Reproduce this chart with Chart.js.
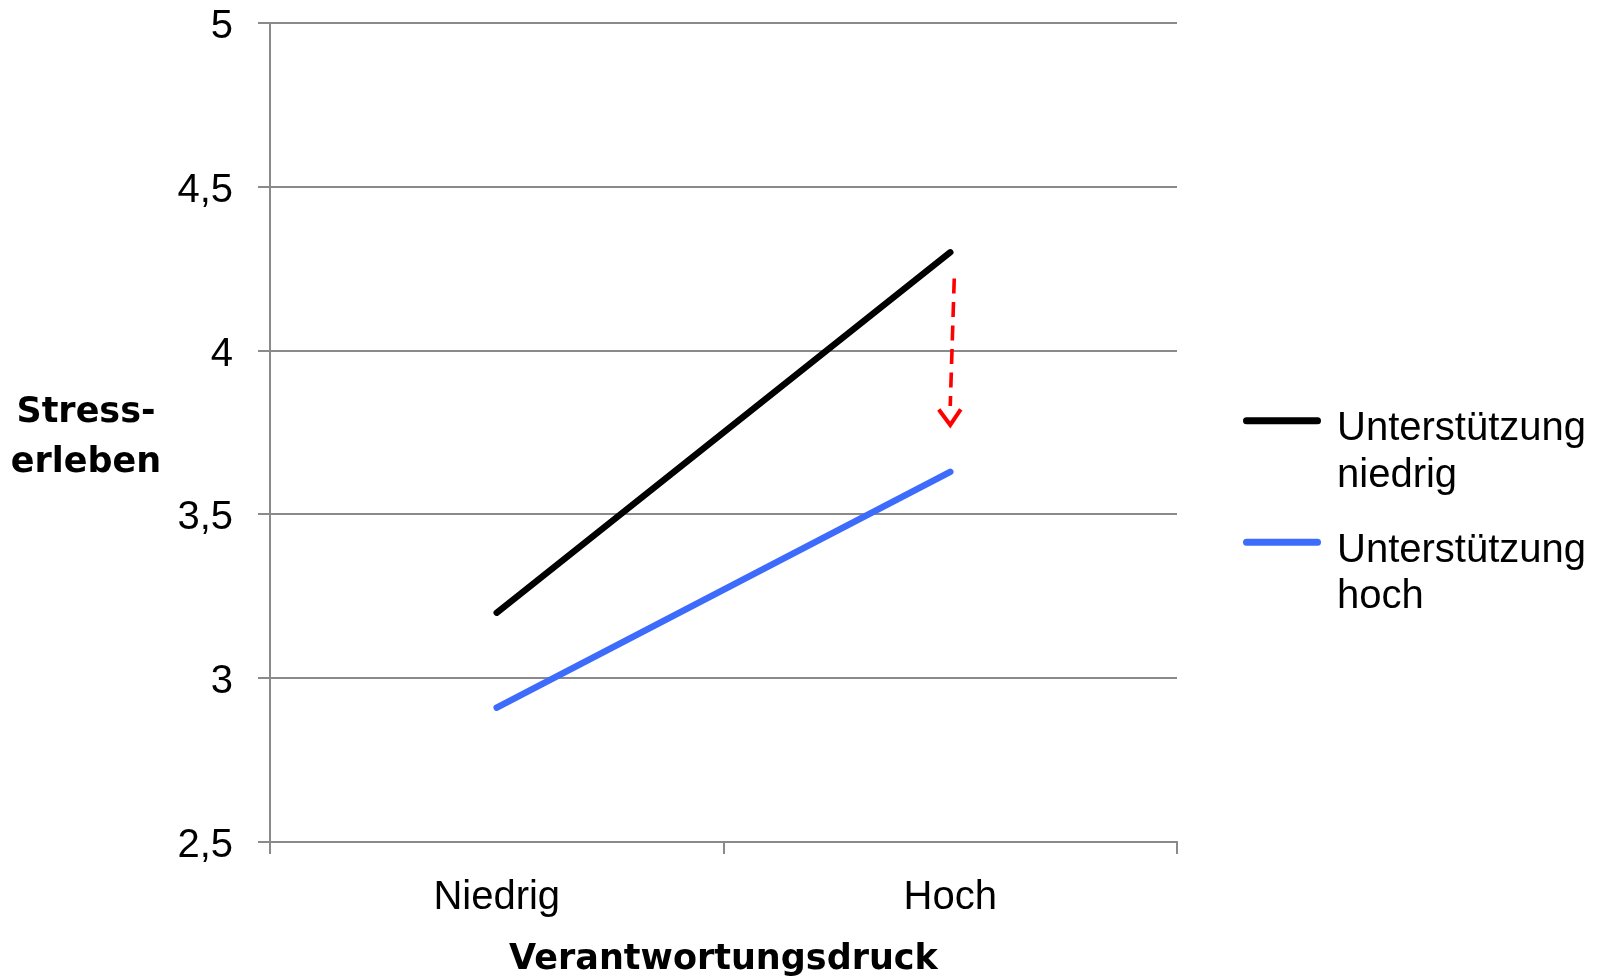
<!DOCTYPE html>
<html lang="de">
<head>
<meta charset="utf-8">
<title>Stresserleben nach Verantwortungsdruck und Unterstützung</title>
<script src="https://cdn.jsdelivr.net/npm/chart.js@4.4.0/dist/chart.umd.min.js"></script>
<style>
  html, body { margin: 0; padding: 0; background: #ffffff; }
  #chart { display: block; }
</style>
</head>
<body>
<canvas id="chart" width="1598" height="979"></canvas>
<script>
// Categories on the x axis (Verantwortungsdruck)
const categories = ['Niedrig', 'Hoch'];

// Mean Stresserleben per group
const supportLow = [3.20, 4.30];
const supportHigh = [2.91, 3.63];

// Legend entries (two-line labels)
const seriesLabels = [
  ['Unterstützung', 'niedrig'],
  ['Unterstützung', 'hoch']
];
const seriesColors = ['#000000', '#3d6cfc'];

// y axis tick labels, German decimal comma
const yTickValues = [2.5, 3, 3.5, 4, 4.5, 5];
const yTickLabels = ['2,5', '3', '3,5', '4', '4,5', '5'];

// Axis titles
const xTitle = 'Verantwortungsdruck';
const yTitleLines = ['Stress-', 'erleben'];

// Buffering effect arrow at "Hoch": from / to (Stresserleben units)
const arrowCategory = 'Hoch';
const arrowFrom = 4.22;
const arrowTo = 3.77;

const GRID = '#8a8a8a';
const REGULAR = 'Liberation Sans, Arial, Helvetica, sans-serif';
const BOLD = 'DejaVu Sans, Verdana, sans-serif';

const extrasPlugin = {
  id: 'extras',
  afterDatasetsDraw(chart) {
    const ctx = chart.ctx;
    const xs = chart.scales.x, ys = chart.scales.y;
    const x = xs.getPixelForValue(categories.indexOf(arrowCategory));
    const y0 = ys.getPixelForValue(arrowFrom);
    const tip = ys.getPixelForValue(arrowTo);
    ctx.save();
    ctx.strokeStyle = '#ff0000';
    ctx.lineWidth = 3.6;
    ctx.lineCap = 'butt';
    ctx.setLineDash([15, 8.5]);
    ctx.beginPath();
    ctx.moveTo(x + 4, y0);
    ctx.lineTo(x, tip - 20);
    ctx.stroke();
    ctx.setLineDash([]);
    ctx.lineWidth = 4;
    ctx.lineJoin = 'miter';
    ctx.beginPath();
    ctx.moveTo(x - 11.5, tip - 16.5);
    ctx.lineTo(x, tip - 1);
    ctx.lineTo(x + 10.5, tip - 16.5);
    ctx.stroke();
    ctx.restore();
  },
  afterDraw(chart) {
    const ctx = chart.ctx;
    ctx.save();
    // y axis title, horizontal, two lines
    ctx.fillStyle = '#000';
    ctx.font = 'bold 35px ' + BOLD;
    ctx.textAlign = 'center';
    ctx.textBaseline = 'alphabetic';
    ctx.fillText(yTitleLines[0], 86, 422);
    ctx.fillText(yTitleLines[1], 86, 472);

    // legend on the right
    const legendY = [420.7, 542.3];
    ctx.font = '40px ' + REGULAR;
    ctx.textAlign = 'left';
    seriesLabels.forEach((lines, i) => {
      const ly = legendY[i];
      ctx.strokeStyle = seriesColors[i];
      ctx.lineWidth = 7;
      ctx.lineCap = 'round';
      ctx.beginPath();
      ctx.moveTo(1246.5, ly);
      ctx.lineTo(1317.5, ly);
      ctx.stroke();
      lines.forEach((t, j) => {
        ctx.fillText(t, 1337, ly + 19.5 + j * 46.3);
      });
    });
    ctx.restore();
  }
};

new Chart(document.getElementById('chart'), {
  type: 'line',
  data: {
    labels: categories,
    datasets: [
      {
        label: seriesLabels[0].join(' '),
        data: supportLow,
        borderColor: seriesColors[0],
        backgroundColor: seriesColors[0],
        borderWidth: 6.5,
        borderCapStyle: 'round',
        pointRadius: 0,
        fill: false,
        tension: 0
      },
      {
        label: seriesLabels[1].join(' '),
        data: supportHigh,
        borderColor: seriesColors[1],
        backgroundColor: seriesColors[1],
        borderWidth: 6.5,
        borderCapStyle: 'round',
        pointRadius: 0,
        fill: false,
        tension: 0
      }
    ]
  },
  options: {
    responsive: false,
    animation: false,
    devicePixelRatio: 1,
    layout: { padding: { top: 23, right: 421, bottom: 0, left: 0 } },
    plugins: {
      legend: { display: false },
      tooltip: { enabled: false },
      title: { display: false }
    },
    scales: {
      x: {
        type: 'category',
        offset: true,
        grid: {
          offset: true,
          drawOnChartArea: false,
          drawTicks: true,
          tickLength: 12,
          color: GRID,
          lineWidth: 2
        },
        border: { display: true, color: GRID, width: 2 },
        ticks: {
          color: '#000',
          font: { family: REGULAR, size: 40 },
          padding: 20,
          maxRotation: 0
        },
        title: {
          display: true,
          text: xTitle,
          color: '#000',
          font: { family: BOLD, size: 35, weight: 'bold', lineHeight: 1 },
          padding: { top: 0, bottom: 2 }
        },
        afterFit(scale) {
          scale.height = 137;
          scale.paddingLeft = 0;
          scale.paddingRight = 0;
        }
      },
      y: {
        min: 2.5,
        max: 5,
        afterBuildTicks(scale) {
          scale.ticks = yTickValues.map(v => ({ value: v }));
        },
        grid: {
          drawTicks: true,
          tickLength: 12,
          color: GRID,
          lineWidth: 2
        },
        border: { display: true, color: GRID, width: 2 },
        ticks: {
          color: '#000',
          font: { family: REGULAR, size: 40 },
          padding: 25,
          labelOffset: 4,
          callback(value) {
            const i = yTickValues.indexOf(value);
            return i >= 0 ? yTickLabels[i] : '';
          }
        },
        afterFit(scale) {
          scale.width = 270;
          scale.paddingTop = 0;
          scale.paddingBottom = 0;
        }
      }
    }
  },
  plugins: [extrasPlugin]
});
</script>
</body>
</html>
